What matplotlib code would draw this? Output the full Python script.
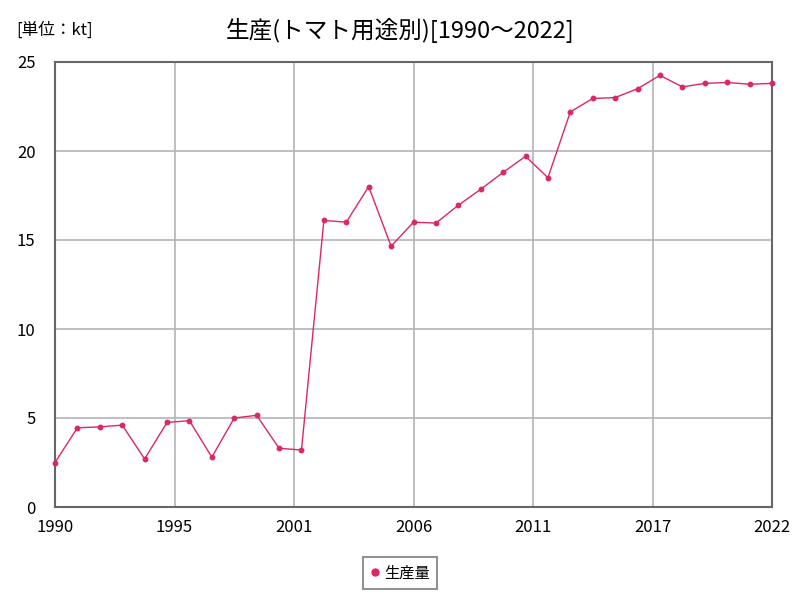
import matplotlib
matplotlib.use("Agg")
import matplotlib.pyplot as plt
import numpy as np

plt.rcParams['font.family'] = ['Noto Sans CJK JP', 'DejaVu Sans']

years = list(range(1990, 2023))
production = [2.5, 4.45, 4.5, 4.6, 2.7, 4.75, 4.85, 2.8, 5.0, 5.15, 3.3, 3.2,
              16.1, 16.0, 18.0, 14.65, 16.0, 15.95, 16.95, 17.85, 18.8, 19.7,
              18.5, 22.2, 22.95, 23.0, 23.5, 24.25, 23.6, 23.8, 23.85, 23.75, 23.8]
tick_labels = ['1990', '1995', '2001', '2006', '2011', '2017', '2022']
yticks = [0, 5, 10, 15, 20, 25]

fig = plt.figure(figsize=(8, 6), dpi=100)
ax = fig.add_axes([55/800, 1-507/600, (772-55)/800, (507-62)/600])

x = np.arange(len(years))
color = '#dc2860'
ax.plot(x, production, color=color, lw=1, marker='o', ms=3.2, label='生産量', clip_on=False, zorder=3)

ax.set_xlim(0, len(years)-1)
ax.set_ylim(0, 25)
ax.set_xticks(np.linspace(0, len(years)-1, len(tick_labels)))
ax.set_xticklabels(tick_labels)
ax.set_yticks(yticks)
ax.grid(True, color='#b4b4b4', lw=1.2)
ax.set_axisbelow(True)
for s in ax.spines.values():
    s.set_color('#666666')
    s.set_linewidth(1.5)
ax.tick_params(length=0, labelsize=12)
ax.tick_params(axis='x', pad=9)
ax.tick_params(axis='y', pad=14)

fig.text(0.5, 0.95, '生産(トマト用途別)[1990～2022]', ha='center', va='center', fontsize=17)
fig.text(0.02, 0.95, '[単位：kt]', ha='left', va='center', fontsize=12)

leg = fig.legend(loc='center', bbox_to_anchor=(0.5, 0.045), frameon=True, fancybox=False,
                 handlelength=0.6, handletextpad=0.3, fontsize=11, borderpad=0.5)
leg.get_frame().set_edgecolor('#777777')
leg.get_frame().set_linewidth(1.5)
for h in leg.legend_handles:
    h.set_linestyle('')
    h.set_markersize(5)

fig.savefig('out.png', dpi=100)
